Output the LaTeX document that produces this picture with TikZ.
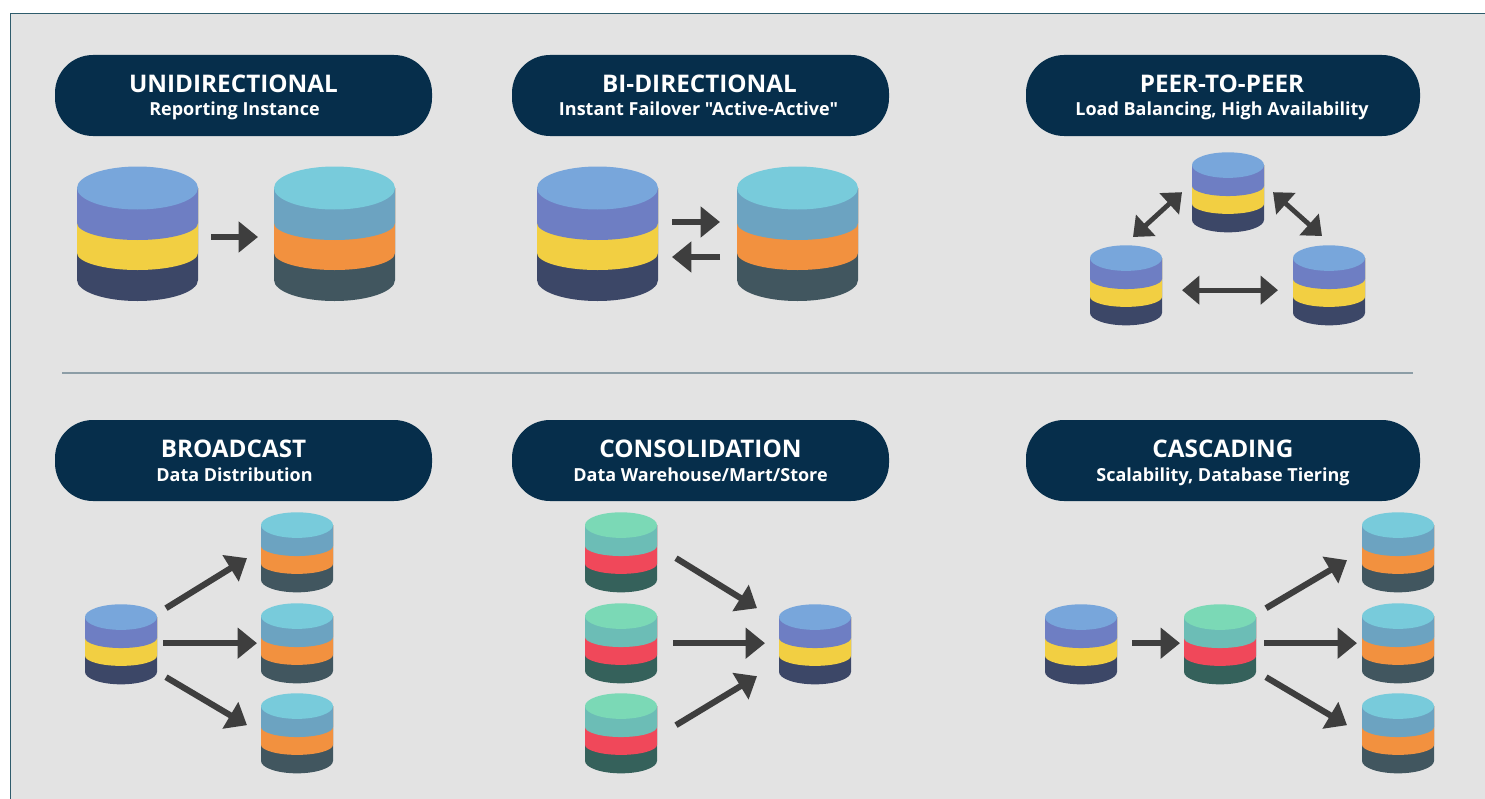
\documentclass[tikz,border=0pt]{standalone}
\usepackage{fontspec}
\setmainfont{Open Sans}[Ligatures=TeXOff]
\usetikzlibrary{arrows.meta}
\definecolor{pillc}{HTML}{062E4B}
\definecolor{panelc}{HTML}{E3E3E3}
\definecolor{panelb}{HTML}{2F5C6C}
\definecolor{rulec}{HTML}{8C9DA6}
\definecolor{arrc}{HTML}{3E3E3E}
\definecolor{aA}{HTML}{78A6DB}\definecolor{aB}{HTML}{6E7EC3}\definecolor{aC}{HTML}{F2CF42}\definecolor{aD}{HTML}{3C4767}
\definecolor{bA}{HTML}{78CBDB}\definecolor{bB}{HTML}{6CA3C1}\definecolor{bC}{HTML}{F2913F}\definecolor{bD}{HTML}{41565F}
\definecolor{cA}{HTML}{7BD9B6}\definecolor{cB}{HTML}{6CBDB6}\definecolor{cC}{HTML}{F0485A}\definecolor{cD}{HTML}{35615B}
\tikzset{
  pill/.style={fill=pillc,inner sep=0pt,minimum height=60.75pt,rounded corners=28.5pt},
  titletext/.style={text=white,font=\fontsize{18.2}{20}\selectfont\bfseries,inner sep=0pt,anchor=base},
  subtext/.style={text=white,font=\fontsize{13.5}{16}\selectfont\bfseries,inner sep=0pt,anchor=base},
  arr/.style={draw=arrc,line width=4.6pt,-{Triangle[length=14.5pt,width=22.5pt]}},
  peerarr/.style={draw=arrc,line width=3.6pt,{Triangle[length=13pt,width=21pt]}-{Triangle[length=13pt,width=21pt]}},
  dbbox/.style={inner sep=0pt,outer sep=0pt,rectangle}
}
% name, left x, top y, width, colour prefix
\newcommand{\dbcyl}[5]{%
  \pgfmathsetmacro{\dbcx}{#2+#4/2}%
  \pgfmathsetmacro{\dbcy}{#3+#4*135/242}%
  \pgfmathsetmacro{\dbh}{#4*135/121}%
  \node[dbbox,minimum width=#4*0.75pt,minimum height=\dbh*0.75pt] (#1) at (\dbcx,\dbcy) {};
  \begin{scope}[shift={(#2,#3)},x=#4/121*0.75pt,y=-#4/121*0.75pt]
    \fill[#5D] (0,22) -- (0,114) arc[start angle=180,end angle=0,x radius=60.5,y radius=21] -- (121,22) -- cycle;
    \fill[#5C] (0,22) -- (0,87) arc[start angle=180,end angle=0,x radius=60.5,y radius=17] -- (121,22) -- cycle;
    \fill[#5B] (0,22) -- (0,57) arc[start angle=180,end angle=0,x radius=60.5,y radius=17] -- (121,22) -- cycle;
    \fill[#5A] (60.5,22) ellipse[x radius=60.5,y radius=21.5];
  \end{scope}
}
\begin{document}
\begin{tikzpicture}[x=0.75pt,y=-0.75pt]
\useasboundingbox (0,0) rectangle (1485,799);
\fill[white] (0,0) rectangle (1485,799);
\fill[panelc] (10,13.5) rectangle (1485,799);
\draw[panelb,line width=1.1pt] (10.5,799) -- (10.5,13.5) -- (1485,13.5);
\draw[rulec,line width=0.8pt] (62,373) -- (1413,373);

% header pills
\node[pill,minimum width=377*0.75pt] (p1) at (243.5,95.5) {};
\node[pill,minimum width=377*0.75pt] (p2) at (700.5,95.5) {};
\node[pill,minimum width=394*0.75pt] (p3) at (1223,95.5) {};
\node[pill,minimum width=377*0.75pt] (p4) at (243.5,460.5) {};
\node[pill,minimum width=377*0.75pt] (p5) at (700.5,460.5) {};
\node[pill,minimum width=394*0.75pt] (p6) at (1223,460.5) {};

\node[titletext] (t1) at (233.5,92.5) {UNIDIRECTIONAL};
\node[subtext] (s1) at (234.5,116) {Reporting Instance};
\node[titletext] (t2) at (699.5,92.5) {BI-DIRECTIONAL};
\node[subtext] (s2) at (698.5,116) {Instant Failover "Active-Active"};
\node[titletext] (t3) at (1222,92.5) {PEER-TO-PEER};
\node[subtext] (s3) at (1222,116) {Load Balancing, High Availability};
\node[titletext] (t4) at (233.5,457.5) {BROADCAST};
\node[subtext] (s4) at (234.5,481) {Data Distribution};
\node[titletext] (t5) at (700.5,457.5) {CONSOLIDATION};
\node[subtext] (s5) at (700.5,481) {Data Warehouse/Mart/Store};
\node[titletext] (t6) at (1223,457.5) {CASCADING};
\node[subtext] (s6) at (1223,481) {Scalability, Database Tiering};

% unidirectional
\dbcyl{ua}{77}{166}{121}{a}
\dbcyl{ub}{274}{166}{121}{b}
\draw[arr] ([shift={(13,3.5)}]ua.east) -- ([shift={(-16,3.5)}]ub.west);

% bi-directional
\dbcyl{ba}{537}{166}{121}{a}
\dbcyl{bb}{737}{166}{121}{b}
\draw[arr] ([shift={(14,-11.5)}]ba.east) -- ([shift={(-17,-11.5)}]bb.west);
\draw[arr] ([shift={(-17,23.5)}]bb.west) -- ([shift={(14,23.5)}]ba.east);

% peer-to-peer
\dbcyl{pt}{1192}{152}{72}{a}
\dbcyl{pl}{1090}{245}{72}{a}
\dbcyl{pr}{1293}{245}{72}{a}
\draw[peerarr] ([shift={(-10,0)}]pt.west) -- ([shift={(7,-8)}]pl.north);
\draw[peerarr] ([shift={(9,0)}]pt.east) -- ([shift={(-7,-9)}]pr.north);
\draw[peerarr] ([shift={(20,5)}]pl.east) -- ([shift={(-15,5)}]pr.west);

% broadcast
\dbcyl{ds}{85}{604}{72}{a}
\dbcyl{dx}{261}{512}{72}{b}
\dbcyl{dy}{261}{603}{72}{b}
\dbcyl{dz}{261}{693}{72}{b}
\draw[arr] ([shift={(9,-36)}]ds.east) -- ([shift={(-14,6)}]dx.west);
\draw[arr] ([shift={(6,-1)}]ds.east) -- ([shift={(-4,0)}]dy.west);
\draw[arr] ([shift={(9,33)}]ds.east) -- ([shift={(-14,-8)}]dz.west);

% consolidation
\dbcyl{cx}{585}{512}{72}{c}
\dbcyl{cy}{585}{603}{72}{c}
\dbcyl{cz}{585}{693}{72}{c}
\dbcyl{ct}{779}{604}{72}{a}
\draw[arr] ([shift={(19,6)}]cx.east) -- ([shift={(-22,-36)}]ct.west);
\draw[arr] ([shift={(16,0)}]cy.east) -- ([shift={(-14,-1)}]ct.west);
\draw[arr] ([shift={(19,-8)}]cz.east) -- ([shift={(-22,32)}]ct.west);

% cascading
\dbcyl{ka}{1045}{604}{72}{a}
\dbcyl{km}{1184}{604}{72}{c}
\dbcyl{kx}{1362}{512}{72}{b}
\dbcyl{ky}{1362}{603}{72}{b}
\dbcyl{kz}{1362}{693}{72}{b}
\draw[arr] ([shift={(15,-1)}]ka.east) -- ([shift={(-4,-1)}]km.west);
\draw[arr] ([shift={(10,-36)}]km.east) -- ([shift={(-15,8)}]kx.west);
\draw[arr] ([shift={(8,-1)}]km.east) -- ([shift={(-5,0)}]ky.west);
\draw[arr] ([shift={(10,33)}]km.east) -- ([shift={(-15,-8)}]kz.west);
\end{tikzpicture}
\end{document}
